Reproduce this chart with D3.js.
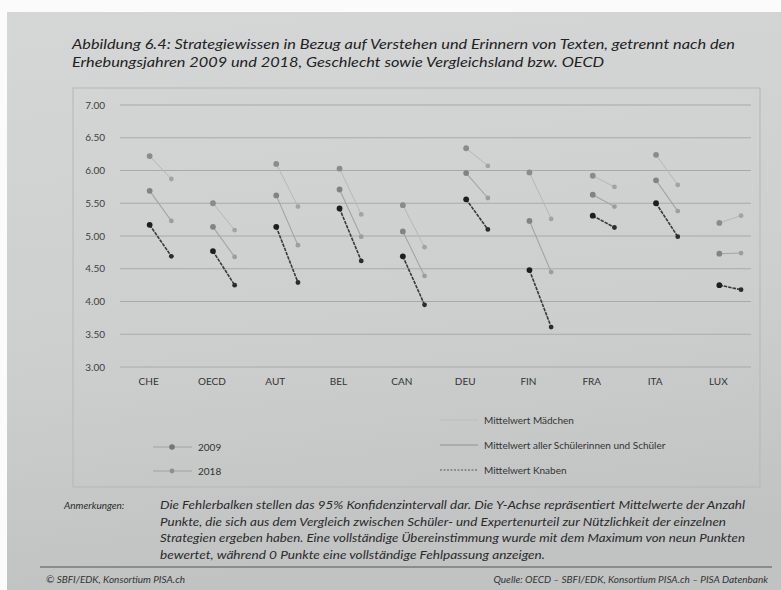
<!DOCTYPE html>
<html><head><meta charset="utf-8">
<script src="https://cdn.jsdelivr.net/npm/d3@7"></script>
<style>
html,body{margin:0;padding:0;background:#fff;}
svg{display:block;font-family:Lato,"Open Sans",sans-serif;}
</style></head>
<body>
<svg id="chart" width="781" height="590"></svg>
<script>
const countries = ["CHE","OECD","AUT","BEL","CAN","DEU","FIN","FRA","ITA","LUX"];
const years = ["2009","2018"];
const girls2009 = [6.22,5.50,6.10,6.03,5.47,6.34,5.97,5.92,6.24,5.20];
const girls2018 = [5.87,5.09,5.45,5.33,4.83,6.07,5.26,5.75,5.78,5.31];
const all2009   = [5.69,5.14,5.62,5.71,5.07,5.96,5.23,5.63,5.85,4.73];
const all2018   = [5.23,4.68,4.86,4.99,4.39,5.58,4.45,5.45,5.38,4.74];
const boys2009  = [5.17,4.77,5.14,5.42,4.69,5.56,4.48,5.31,5.50,4.25];
const boys2018  = [4.69,4.25,4.29,4.62,3.95,5.10,3.61,5.13,4.99,4.18];
const yTicks = [3.00,3.50,4.00,4.50,5.00,5.50,6.00,6.50,7.00];
const seriesNames = ["Mittelwert Mädchen","Mittelwert aller Schülerinnen und Schüler","Mittelwert Knaben"];
const titleLines = ["Abbildung 6.4: Strategiewissen in Bezug auf Verstehen und Erinnern von Texten, getrennt nach den",
  "Erhebungsjahren 2009 und 2018, Geschlecht sowie Vergleichsland bzw. OECD"];
const noteLines = ["Die Fehlerbalken stellen das 95% Konfidenzintervall dar. Die Y-Achse repräsentiert Mittelwerte der Anzahl",
  "Punkte, die sich aus dem Vergleich zwischen Schüler- und Expertenurteil zur Nützlichkeit der einzelnen",
  "Strategien ergeben haben. Eine vollständige Übereinstimmung wurde mit dem Maximum von neun Punkten",
  "bewertet, während 0 Punkte eine vollständige Fehlpassung anzeigen."];

const svg = d3.select("#chart");
const defs = svg.append("defs");
const grad = defs.append("linearGradient").attr("id","bg").attr("x1",0).attr("y1",0).attr("x2",0.15).attr("y2",1);
grad.append("stop").attr("offset","0%").attr("stop-color","#d5d7d7");
grad.append("stop").attr("offset","60%").attr("stop-color","#cdcfcf");
grad.append("stop").attr("offset","100%").attr("stop-color","#c1c3c3");
svg.append("rect").attr("x",0).attr("y",0).attr("width",781).attr("height",590).attr("fill","#fbfbfb");
svg.append("rect").attr("x",7).attr("y",12).attr("width",774).attr("height",578).attr("fill","url(#bg)");

// title: line 1 fitted to measured width, line 2 proportional
const tg = svg.append("g");
const tts = tg.selectAll("text").data(titleLines).join("text")
  .attr("x",72).attr("y",(d,i)=>49+i*17.5)
  .attr("font-size",12.5).attr("font-style","italic").attr("fill","#222").text(d=>d);
const nat = tts.nodes().map(n=>n.getComputedTextLength());
const tScale = 663/nat[0];
tts.attr("textLength",(d,i)=>nat[i]*tScale).attr("lengthAdjust","spacingAndGlyphs");

// chart frame
svg.append("rect").attr("x",73).attr("y",88).attr("width",687).attr("height",399)
  .attr("fill","none").attr("stroke","#b5b7b7").attr("stroke-width",1);

const x = d3.scaleBand().domain(countries).range([118,751]);
const yr = d3.scalePoint().domain(years).range([0,21.7]);
const y = d3.scaleLinear().domain([3,7]).range([367,105]);
const px = (c,yy)=> x(c)+x.bandwidth()/2+yr(yy);

// grid
svg.append("g").selectAll("line").data(yTicks).join("line")
  .attr("x1",120).attr("x2",751).attr("y1",d=>y(d)).attr("y2",d=>y(d))
  .attr("stroke","#a8aaaa").attr("stroke-width",1);

// y axis labels
const yAxis = d3.axisLeft(y).tickValues(yTicks).tickFormat(d3.format(".2f")).tickSize(0).tickPadding(0);
const ga = svg.append("g").attr("transform","translate(105,0)").call(yAxis);
ga.select(".domain").remove();
ga.selectAll("text").attr("font-size",10).attr("fill","#3e3e3e").attr("font-family","Lato,sans-serif");

// x axis labels
const xAxis = d3.axisBottom(x).tickSize(0).tickPadding(0);
const gx = svg.append("g").attr("transform","translate(-1,378)").call(xAxis);
gx.select(".domain").remove();
gx.selectAll("text").attr("font-size",10).attr("fill","#333").attr("font-family","Lato,sans-serif");

const series = [
  {name:seriesNames[0], v:[girls2009,girls2018], line:"#b6b8b8", lw:1, dash:null, m:["#8a8c8c","#a2a4a4"]},
  {name:seriesNames[1], v:[all2009,all2018], line:"#a3a5a5", lw:1.1, dash:null, m:["#828484","#9c9e9e"]},
  {name:seriesNames[2], v:[boys2009,boys2018], line:"#3a3a3a", lw:1.6, dash:"3.5,1", m:["#1e1e1e","#2c2c2c"]}
];

const gs = svg.append("g");
series.forEach(s=>{
  const g = gs.append("g");
  g.selectAll("line").data(countries).join("line")
    .attr("x1",c=>px(c,"2009")).attr("x2",c=>px(c,"2018"))
    .attr("y1",(c,i)=>y(s.v[0][i])).attr("y2",(c,i)=>y(s.v[1][i]))
    .attr("stroke",s.line).attr("stroke-width",s.lw).attr("stroke-dasharray",s.dash);
  years.forEach((yy,k)=>{
    g.selectAll("circle.y"+yy).data(countries).join("circle").attr("class","y"+yy)
      .attr("cx",c=>px(c,yy)).attr("cy",(c,i)=>y(s.v[k][i]))
      .attr("r",k===0?2.9:2.4).attr("fill",s.m[k]);
  });
});

// legend left: years
const lg = svg.append("g");
years.forEach((yy,k)=>{
  const ly = 447+k*24;
  lg.append("line").attr("x1",153).attr("x2",192).attr("y1",ly).attr("y2",ly).attr("stroke","#a0a2a2").attr("stroke-width",1);
  lg.append("circle").attr("cx",172).attr("cy",ly).attr("r",k===0?2.8:2.4).attr("fill",k===0?"#747676":"#8e9090");
  lg.append("text").attr("x",198).attr("y",ly+3.5).attr("font-size",10).attr("fill","#333").text(yy);
});
// legend right: series
series.forEach((s,k)=>{
  const ly = 420+k*25;
  lg.append("line").attr("x1",440).attr("x2",478).attr("y1",ly).attr("y2",ly)
    .attr("stroke",k===0?"#bcbebe":(k===1?"#909292":"#555")).attr("stroke-width",1)
    .attr("stroke-dasharray",k===2?"2,1.5":null);
  lg.append("text").attr("x",484).attr("y",ly+3.5).attr("font-size",10).attr("fill","#333").text(s.name);
});

// notes
svg.append("text").attr("x",64).attr("y",509).attr("font-size",10).attr("font-style","italic").attr("fill","#2a2a2a").text("Anmerkungen:");
const nl = [585,566,585,385];
svg.append("g").selectAll("text").data(noteLines).join("text")
  .attr("x",160).attr("y",(d,i)=>509+i*16.5)
  .attr("textLength",(d,i)=>nl[i]).attr("lengthAdjust","spacingAndGlyphs")
  .attr("font-size",10.5).attr("font-style","italic").attr("fill","#2a2a2a").text(d=>d);
svg.append("line").attr("x1",40).attr("x2",772).attr("y1",567).attr("y2",567).attr("stroke","#555").attr("stroke-width",1.2);
svg.append("text").attr("x",46).attr("y",583).attr("font-size",10).attr("font-style","italic").attr("fill","#333").text("© SBFI/EDK, Konsortium PISA.ch");
svg.append("text").attr("x",768).attr("y",583).attr("text-anchor","end").attr("font-size",10).attr("font-style","italic").attr("fill","#333").text("Quelle: OECD – SBFI/EDK, Konsortium PISA.ch – PISA Datenbank");
</script>
</body></html>
